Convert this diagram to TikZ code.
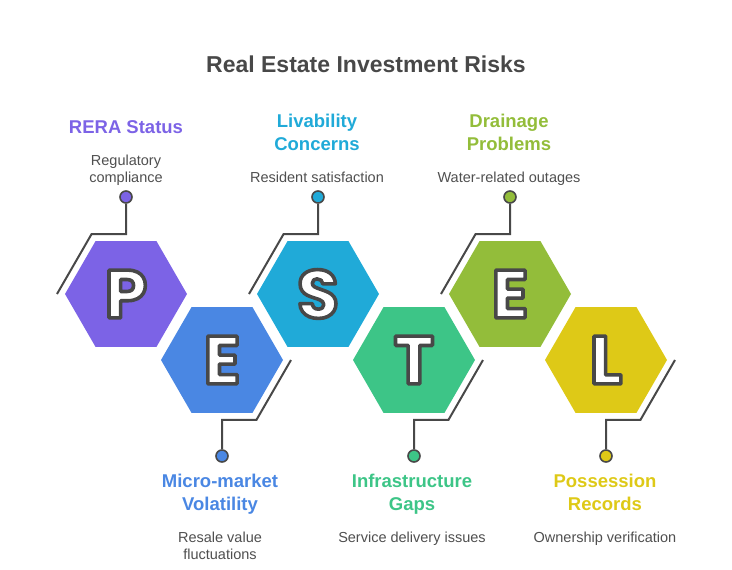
\documentclass[tikz,border=0pt]{standalone}
\usepackage{fontspec}
\setmainfont{Liberation Sans}
\newfontfamily\letterfont{Poppins}
\usetikzlibrary{calc}
\definecolor{cP}{HTML}{7C63E6}
\definecolor{cE}{HTML}{4A87E3}
\definecolor{cS}{HTML}{20AAD8}
\definecolor{cT}{HTML}{3DC587}
\definecolor{cEE}{HTML}{93BD3A}
\definecolor{cL}{HTML}{DEC917}
\definecolor{ink}{HTML}{484848}
\definecolor{txt}{HTML}{4F4F4F}
\tikzset{
  conn/.style={draw=ink, line width=2pt},
  dotn/.style={circle, draw=ink, line width=1.6pt, minimum size=12pt, inner sep=0pt},
  letr/.style={font=\letterfont\bfseries\fontsize{68}{68}\selectfont, inner sep=0pt, anchor=center},
  lab/.style={font=\bfseries\fontsize{18.5}{20}\selectfont, anchor=base, inner sep=0pt},
  desc/.style={font=\fontsize{14.5}{16}\selectfont, text=txt, anchor=base, inner sep=0pt},
  ttl/.style={font=\bfseries\fontsize{23}{25}\selectfont, text=ink, anchor=base, inner sep=0pt}
}
\newcommand\hexfill[2]{\fill[#2] (#1) +(0:61) -- +(60:61) -- +(120:61) -- +(180:61) -- +(240:61) -- +(300:61) -- cycle;}
\newcommand\outlet[3]{%
  \node[letr, text=white] (#1) at (#2) {\special{pdf:literal direct 0.282 0.282 0.282 RG 2 Tr 3.6 w 1 j}#3\special{pdf:literal direct 0 Tr}};}
\begin{document}
\begin{tikzpicture}[x=1pt, y=-1pt]
\useasboundingbox (0,0) rectangle (732,570);
\node[ttl] (title) at (366,72) {Real Estate Investment Risks};
% centers
\coordinate (cenP) at (126,294);
\coordinate (cenE) at (222,360);
\coordinate (cenS) at (318,294);
\coordinate (cenT) at (414,360);
\coordinate (cenEE) at (510,294);
\coordinate (cenL) at (606,360);
% hexagons
\hexfill{cenP}{cP}
\hexfill{cenE}{cE}
\hexfill{cenS}{cS}
\hexfill{cenT}{cT}
\hexfill{cenEE}{cEE}
\hexfill{cenL}{cL}
% letters
\outlet{lP}{cenP}{P}
\outlet{lE}{cenE}{E}
\outlet{lS}{cenS}{S}
\outlet{lT}{cenT}{T}
\outlet{lEE}{cenEE}{E}
\outlet{lL}{cenL}{L}
% top connectors
\foreach \n/\c in {P/cP, S/cS, EE/cEE} {
  \coordinate (a\n) at ($(cen\n)+(-69,0)$);
  \coordinate (b\n) at ($(cen\n)+(-34.5,-59.8)$);
  \coordinate (k\n) at ($(cen\n)+(0,-59.8)$);
  \node[dotn, fill=\c] (d\n) at ($(cen\n)+(0,-97)$) {};
  \draw[conn] (a\n) -- (b\n) -- (k\n) -- (d\n);
}
% bottom connectors
\foreach \n/\c in {E/cE, T/cT, L/cL} {
  \coordinate (a\n) at ($(cen\n)+(69,0)$);
  \coordinate (b\n) at ($(cen\n)+(34.5,59.8)$);
  \coordinate (k\n) at ($(cen\n)+(0,59.8)$);
  \node[dotn, fill=\c] (d\n) at ($(cen\n)+(0,96)$) {};
  \draw[conn] (a\n) -- (b\n) -- (k\n) -- (d\n);
}
% top labels
\node[lab, text=cP] (tP) at (126,133) {RERA Status};
\node[desc] (sP1) at (126,165) {Regulatory};
\node[desc] (sP2) at (126,182) {compliance};
\node[lab, text=cS] (tS1) at (317,127) {Livability};
\node[lab, text=cS] (tS2) at (317,150) {Concerns};
\node[desc] (sS) at (317,182) {Resident satisfaction};
\node[lab, text=cEE] (tEE1) at (509,127) {Drainage};
\node[lab, text=cEE] (tEE2) at (509,150) {Problems};
\node[desc] (sEE) at (509,182) {Water-related outages};
% bottom labels
\node[lab, text=cE] (tE1) at (220,487) {Micro-market};
\node[lab, text=cE] (tE2) at (220,510) {Volatility};
\node[desc] (sE1) at (220,542) {Resale value};
\node[desc] (sE2) at (220,559) {fluctuations};
\node[lab, text=cT] (tT1) at (412,487) {Infrastructure};
\node[lab, text=cT] (tT2) at (412,510) {Gaps};
\node[desc] (sT) at (412,542) {Service delivery issues};
\node[lab, text=cL] (tL1) at (605,487) {Possession};
\node[lab, text=cL] (tL2) at (605,510) {Records};
\node[desc] (sL) at (605,542) {Ownership verification};
\end{tikzpicture}
\end{document}
